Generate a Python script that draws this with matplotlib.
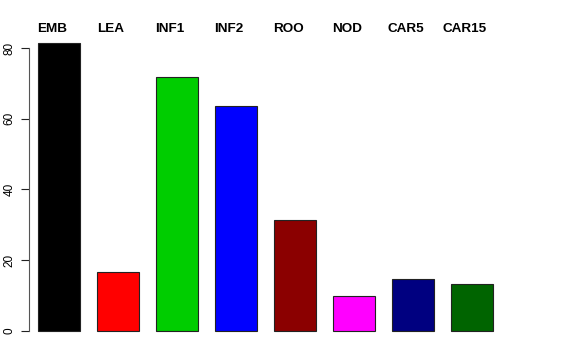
import numpy as np
import matplotlib
matplotlib.use("Agg")
import matplotlib.pyplot as plt

# values
stages = ['EMB', 'LEA', 'INF1', 'INF2', 'ROO', 'NOD', 'CAR5', 'CAR15']
counts = [81.4, 16.7, 71.8, 63.6, 31.4, 9.9, 14.7, 13.3]
colors = ['#000000', '#FF0000', '#00CD00', '#0000FF', '#8B0000', '#FF00FF', '#000080', '#006400']
yticks = [0, 20, 40, 60, 80]

plt.rcParams['font.family'] = ['Liberation Sans', 'DejaVu Sans']

fig = plt.figure(figsize=(5.76, 3.6), dpi=100)
# pixel layout: plot region left at x=29, 59 px per bar slot
left_px, right_px = 29, 560
bottom_px, top_px = 342.5, 31.4
ax = fig.add_axes([left_px / 576, 1 - bottom_px / 360,
                   (right_px - left_px) / 576, (bottom_px - top_px) / 360])

x = np.arange(len(stages))
ax.bar(x, counts, width=42 / 59, color=colors, edgecolor='#222222', linewidth=0.8)

ax.set_xlim((left_px - 59) / 59, (right_px - 59) / 59)
ax.set_ylim(-3.26, 84.7)

for xi, name in zip(x, stages):
    ax.text(xi - 7 / 59, 85.4, name, ha='center', va='center',
            fontsize=9.7, fontweight='bold', clip_on=False)

for s in ['top', 'right', 'bottom']:
    ax.spines[s].set_visible(False)
ax.spines['left'].set_bounds(0, 80)
ax.spines['left'].set_color('#555555')
ax.set_xticks([])
ax.set_yticks(yticks)
ax.set_yticklabels([str(t) for t in yticks], rotation=90, va='center', fontsize=8.5)
ax.tick_params(axis='y', length=5.8, width=0.8, pad=4, color='#222222')

plt.savefig("out.png", dpi=100)
